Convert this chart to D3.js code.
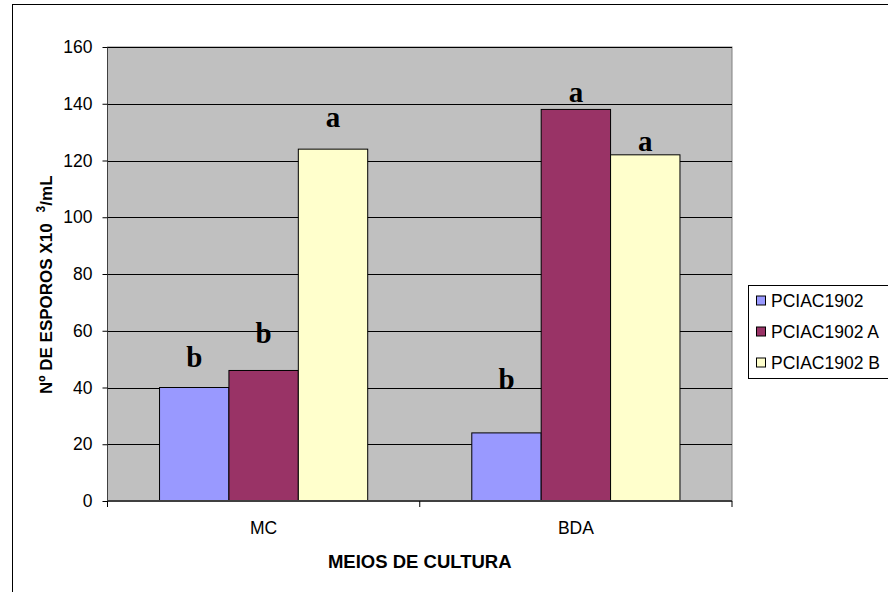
<!DOCTYPE html>
<html><head><meta charset="utf-8">
<script src="https://cdn.jsdelivr.net/npm/d3@7/dist/d3.min.js"></script>
<style>body{margin:0;background:#fff}svg{display:block}</style>
</head><body>
<script>
const categories = ["MC", "BDA"];
const seriesNames = ["PCIAC1902", "PCIAC1902 A", "PCIAC1902 B"];
const seriesColors = ["#9999FF", "#993366", "#FFFFCC"];
const valuesPCIAC1902 = [40, 24];
const valuesPCIAC1902A = [46, 138];
const valuesPCIAC1902B = [124, 122];
const letters = [["b", "b"], ["b", "a"], ["a", "a"]];
const letterHeights = [[47.2, 39.3], [55.7, 140.5], [131.7, 123.3]];
const yTicks = [0, 20, 40, 60, 80, 100, 120, 140, 160];

const series = [valuesPCIAC1902, valuesPCIAC1902A, valuesPCIAC1902B];
const W = 888, H = 592;
const FONT = "'Liberation Sans',Arial,sans-serif";
const svg = d3.select("body").append("svg").attr("width", W).attr("height", H);

svg.append("rect").attr("x", 12.5).attr("y", 4.5).attr("width", 900).attr("height", 620)
  .attr("fill", "#fff").attr("stroke", "#000").attr("stroke-width", 1);

const L = 107.5, R = 732, T = 47, B = 501;
const y = d3.scaleLinear().domain([0, 160]).range([B, T]);
const x0 = d3.scaleBand().domain(categories).range([L, R]).paddingInner(0).paddingOuter(0);
const barW = x0.bandwidth() / 4.5;
const x1 = d3.scaleBand().domain(d3.range(3)).range([0, barW * 3]);

svg.append("rect").attr("x", L).attr("y", T).attr("width", R - L).attr("height", B - T)
  .attr("fill", "#C0C0C0").attr("stroke", "#808080").attr("stroke-width", 1);

svg.append("g").selectAll("line").data(yTicks.filter(d => d > 0)).join("line")
  .attr("x1", L).attr("x2", R).attr("y1", d => Math.round(y(d)) + 0.5).attr("y2", d => Math.round(y(d)) + 0.5)
  .attr("stroke", "#000").attr("stroke-width", 1);

const gBars = svg.append("g");
series.forEach((vals, si) => {
  gBars.selectAll(null).data(vals).join("rect")
    .attr("x", (d, i) => x0(categories[i]) + barW * 0.75 + x1(si))
    .attr("y", d => y(d))
    .attr("width", barW)
    .attr("height", d => B - y(d))
    .attr("fill", seriesColors[si]).attr("stroke", "#000").attr("stroke-width", 1);
});

series.forEach((vals, si) => {
  svg.append("g").selectAll("text").data(vals).join("text")
    .attr("x", (d, i) => x0(categories[i]) + barW * 0.75 + x1(si) + barW / 2)
    .attr("y", (d, i) => y(letterHeights[si][i]))
    .attr("text-anchor", "middle")
    .attr("font-family", "'Liberation Serif','Times New Roman',serif")
    .attr("font-weight", "bold").attr("font-size", 29)
    .text((d, i) => letters[si][i]);
});

const yAxis = d3.axisLeft(y).tickValues(yTicks).tickSize(5).tickPadding(10).tickFormat(d3.format("d"));
const gy = svg.append("g").attr("transform", `translate(${L},0)`).call(yAxis);
gy.select(".domain").attr("stroke", "#404040").attr("d", `M0,${B+6}V${T}`);
gy.selectAll(".tick line").attr("stroke", "#000");
gy.selectAll("text").attr("font-family", FONT).attr("font-size", 17.5).attr("fill", "#000");

const gx = svg.append("g").attr("transform", `translate(0,${B})`);
gx.append("line").attr("x1", L).attr("x2", R).attr("y1", 0).attr("y2", 0).attr("stroke", "#404040").attr("stroke-width", 2);
gx.selectAll(".tk").data([L, x0("BDA"), R]).join("line")
  .attr("x1", d => d).attr("x2", d => d).attr("y1", 0).attr("y2", 6).attr("stroke", "#000");
gx.selectAll("text").data(categories).join("text")
  .attr("x", d => x0(d) + x0.bandwidth() / 2).attr("y", 33)
  .attr("text-anchor", "middle").attr("font-family", FONT)
  .attr("font-size", 17.5).text(d => d);

svg.append("text").attr("x", (L + R) / 2).attr("y", 568).attr("text-anchor", "middle")
  .attr("font-family", FONT).attr("font-weight", "bold").attr("font-size", 18.5)
  .text("MEIOS DE CULTURA");
const yt = svg.append("text").attr("transform", `translate(51.5,394) rotate(-90)`)
  .attr("text-anchor", "start")
  .attr("font-family", FONT).attr("font-weight", "bold").attr("font-size", 17);
yt.append("tspan").text("Nº DE ESPOROS X10");
yt.append("tspan").attr("font-size", 12).attr("dx", 11).attr("dy", -7).text("3");
yt.append("tspan").attr("dy", 7).text("/mL");

const lg = svg.append("g");
lg.append("rect").attr("x", 748.5).attr("y", 285.5).attr("width", 200).attr("height", 93)
  .attr("fill", "#fff").attr("stroke", "#000");
seriesNames.forEach((n, i) => {
  const cy = 300.5 + i * 31;
  lg.append("rect").attr("x", 756.5).attr("y", cy - 4.5).attr("width", 9).attr("height", 9)
    .attr("fill", seriesColors[i]).attr("stroke", "#000");
  lg.append("text").attr("x", 771).attr("y", cy + 6.3).attr("font-family", FONT)
    .attr("font-size", 17.5).text(n);
});
</script>
</body></html>
